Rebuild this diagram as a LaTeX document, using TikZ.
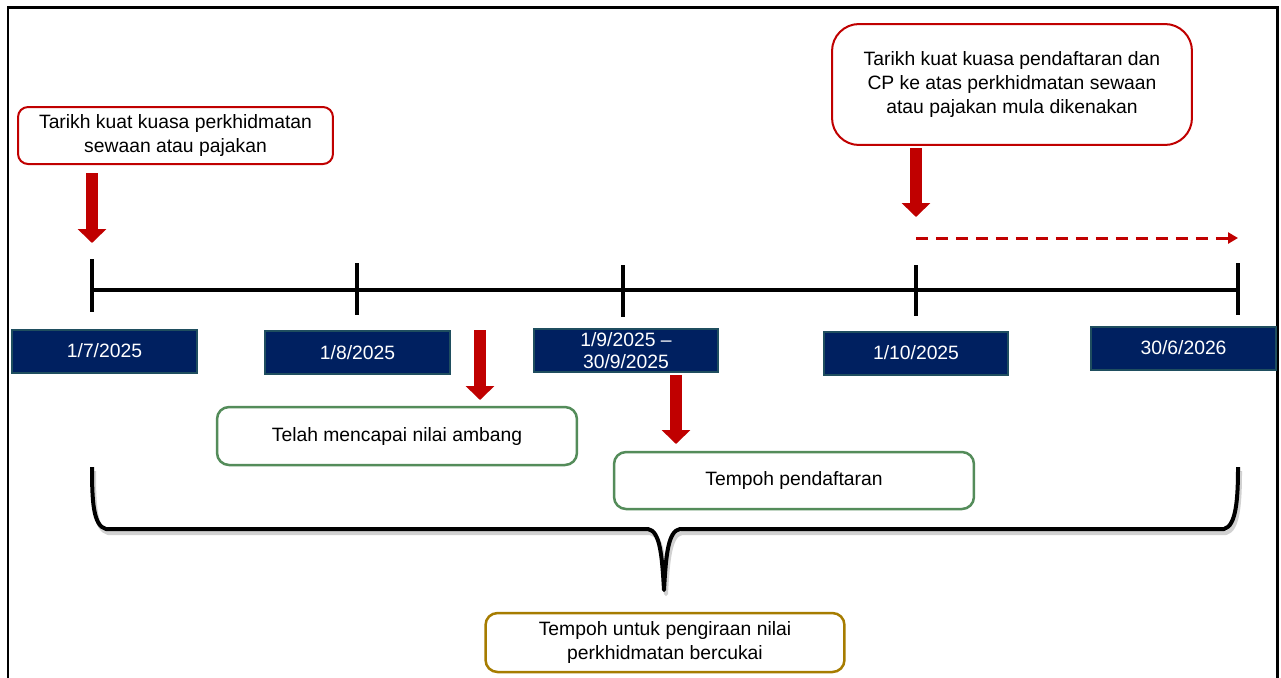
\documentclass[tikz,border=0pt]{standalone}
\usepackage{fontspec}
\setmainfont{Liberation Sans}
\usetikzlibrary{arrows.meta}
\definecolor{redc}{RGB}{192,0,0}
\definecolor{navyc}{RGB}{0,32,96}
\definecolor{navyedge}{RGB}{31,78,95}
\definecolor{greenc}{RGB}{84,140,90}
\definecolor{goldc}{RGB}{166,124,0}
\begin{document}
\begin{tikzpicture}[x=0.02cm,y=-0.02cm,
  font=\fontsize{11}{13.6}\selectfont,
  redbox/.style={draw=redc, line width=0.04cm, align=center, inner sep=0pt},
  datebox/.style={draw=navyedge, fill=navyc, text=white, line width=0.04cm,
    minimum width=3.7cm, minimum height=0.86cm, inner sep=0pt, align=center},
  greenbox/.style={draw=greenc, line width=0.05cm, rounded corners=0.24cm,
    minimum width=7.2cm, minimum height=1.14cm, inner sep=0pt, align=center},
  goldbox/.style={draw=goldc, line width=0.05cm, rounded corners=0.24cm,
    minimum width=7.18cm, minimum height=1.18cm, inner sep=0pt, align=center},
  blockarrow/.style={draw=redc, line width=0.25cm, -{Triangle[width=0.56cm,length=0.28cm]}},
  dasharrow/.style={draw=redc, line width=0.06cm, dash pattern=on 0.24cm off 0.16cm,
    -{Triangle[width=0.22cm,length=0.2cm]}},
  axisline/.style={line width=0.08cm},
  tickline/.style={line width=0.08cm},
  braceline/.style={line width=0.08cm, line join=round}
]
\useasboundingbox (0,0) rectangle (1281,677);
\clip (0,0) rectangle (1281,677);
\fill[white] (0,0) rectangle (1281,677);
% frame
\draw[line width=0.06cm] (8,700) -- (8,7) -- (1277,7) -- (1277,700);

% top boxes
\node[redbox, rounded corners=0.2cm, minimum width=6.3cm, minimum height=1.14cm] (tl) at (175.5,135.5)
  {Tarikh kuat kuasa perkhidmatan\\sewaan atau pajakan};
\node[redbox, rounded corners=0.54cm, minimum width=7.2cm, minimum height=2.42cm] (tr) at (1012,84.5)
  {Tarikh kuat kuasa pendaftaran dan\\CP ke atas perkhidmatan sewaan\\atau pajakan mula dikenakan};

% timeline
\coordinate (t1) at (92,290);
\coordinate (t2) at (357,290);
\coordinate (t3) at (623,290);
\coordinate (t4) at (916,290);
\coordinate (t5) at (1238,290);
\draw[axisline] (t1) -- (t5);
\draw[tickline] ([yshift=0.62cm]t1) -- ([yshift=-0.44cm]t1);
\draw[tickline] ([yshift=0.54cm]t2) -- ([yshift=-0.5cm]t2);
\draw[tickline] ([yshift=0.5cm]t3) -- ([yshift=-0.54cm]t3);
\draw[tickline] ([yshift=0.5cm]t4) -- ([yshift=-0.52cm]t4);
\draw[tickline] ([yshift=0.54cm]t5) -- ([yshift=-0.5cm]t5);

% date boxes
\node[datebox] (d1) at (104.5,351) {1/7/2025};
\node[datebox] (d2) at (357.5,352.5) {1/8/2025};
\node[datebox] (d3) at (626,350.5) {1/9/2025 --\\[-1.5pt]30/9/2025};
\node[datebox] (d4) at (916,353) {1/10/2025};
\node[datebox] (d5) at (1183.5,348) {30/6/2026};

% lower boxes
\node[greenbox, minimum height=1.16cm] (g1) at (397,436) {Telah mencapai nilai ambang};
\node[greenbox] (g2) at (794,480.5) {Tempoh pendaftaran};
\node[goldbox] (gd) at (665,642.5) {Tempoh untuk pengiraan nilai\\perkhidmatan bercukai};

% block arrows
\coordinate (a1s) at (92,173);  \coordinate (a1e) at (92,243);
\coordinate (a2s) at (916,148); \coordinate (a2e) at (916,217);
\coordinate (a3s) at (480,330); \coordinate (a3e) at (480,400);
\coordinate (a4s) at (676,375); \coordinate (a4e) at (676,444);
\draw[blockarrow] (a1s) -- (a1e);
\draw[blockarrow] (a2s) -- (a2e);
\draw[blockarrow] (a3s) -- (a3e);
\draw[blockarrow] (a4s) -- (a4e);

% dashed arrow
\coordinate (ds) at (916,238);
\coordinate (de) at (1238,238);
\draw[dasharrow] (ds) -- (de);

% brace (shadow then line)
\draw[braceline, black!18, shift={(2,4)}]
  (92,467) .. controls (92,500) and (93,526) .. (106,529) -- (648,529)
  .. controls (660,531) and (662,555) .. (664,590)
  .. controls (666,555) and (668,531) .. (680,529) -- (1224,529)
  .. controls (1236,526) and (1238,500) .. (1238,467);
\draw[braceline]
  (92,467) .. controls (92,500) and (93,526) .. (106,529) -- (648,529)
  .. controls (660,531) and (662,555) .. (664,590)
  .. controls (666,555) and (668,531) .. (680,529) -- (1224,529)
  .. controls (1236,526) and (1238,500) .. (1238,467);
\end{tikzpicture}
\end{document}
